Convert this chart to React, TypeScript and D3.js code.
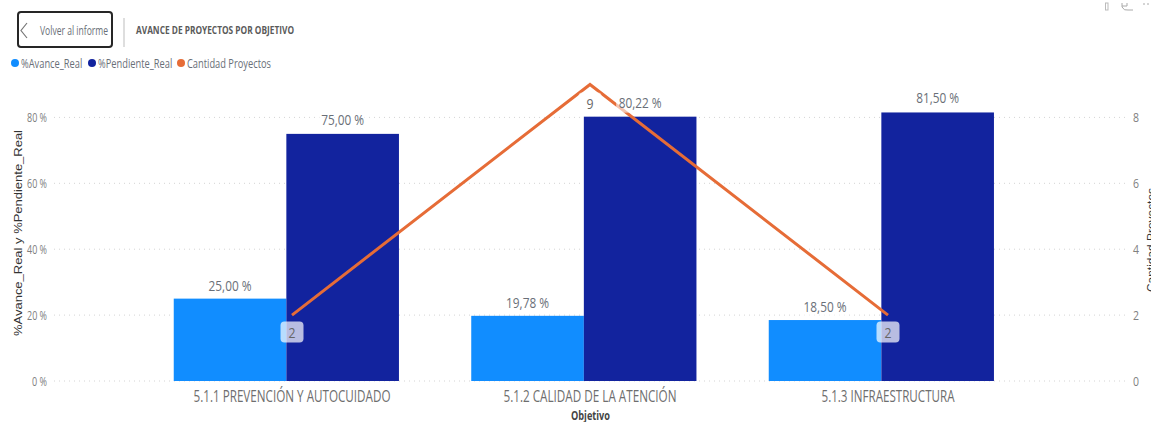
import React from "react";
import * as d3 from "d3";

const categories = ["5.1.1 PREVENCIÓN Y AUTOCUIDADO", "5.1.2 CALIDAD DE LA ATENCIÓN", "5.1.3 INFRAESTRUCTURA"];
const avanceReal = [25.0, 19.78, 18.5];
const pendienteReal = [75.0, 80.22, 81.5];
const cantidadProyectos = [2, 9, 2];
const leftTicks = [0, 20, 40, 60, 80];
const rightTicks = [0, 2, 4, 6, 8];
const legendItems = ["%Avance_Real", "%Pendiente_Real", "Cantidad Proyectos"];

const W = 1151, H = 422;
const BLUE = "#118DFF", NAVY = "#12239E", ORANGE = "#E66C37";
const FONT = "'Open Sans', sans-serif";
const GRAY = "#6a6f78";

const fmt = (v: number) => v.toFixed(2).replace(".", ",") + " %";

function T({ x, y, w, size = 13, anchor = "middle", fill = GRAY, weight = 400, family = FONT, children, rotate }: any) {
  return (
    <text
      x={rotate ? 0 : x}
      y={rotate ? 0 : y}
      transform={rotate ? `translate(${x},${y}) rotate(${rotate})` : undefined}
      textAnchor={anchor}
      dominantBaseline="central"
      fontFamily={family}
      fontSize={size}
      fontWeight={weight}
      fill={fill}
      textLength={w}
      lengthAdjust={w ? "spacingAndGlyphs" : undefined}
    >
      {children}
    </text>
  );
}

export default function App() {
  React.useEffect(() => {
    document.body.style.margin = "0";
  }, []);

  const y = d3.scaleLinear().domain([0, 80]).range([381, 117.4]);
  const yR = d3.scaleLinear().domain([0, 8]).range([381, 117.4]);
  const band = d3.scaleBand<string>().domain(categories).range([137.6, 1030.1]).paddingInner(0.243).paddingOuter(0.1215);
  const bw = band.bandwidth();
  const lineX = d3.scalePoint<string>().domain(categories).range([292, 888]);
  const linePath = d3.line<number>().x((_, i) => lineX(categories[i])!).y((d) => yR(d))(cantidadProyectos)!;

  const catW = [197, 173, 133];
  const legendX = [15, 92, 181];
  const legendCol = [BLUE, NAVY, ORANGE];

  return (
    <svg width={W} height={H} viewBox={`0 0 ${W} ${H}`} style={{ position: "absolute", left: 0, top: 0, display: "block", background: "#fff" }}>
      {/* header */}
      <rect x={18} y={12} width={94} height={35} rx={3} fill="#fff" stroke="#262626" strokeWidth={2} />
      <path d="M27 23 L21 30.5 L27 38" fill="none" stroke="#777" strokeWidth={1.2} />
      <T x={40} y={30.5} w={68} size={12.5} anchor="start">Volver al informe</T>
      <line x1={124} x2={124} y1={18} y2={47} stroke="#c8c8c8" strokeWidth={1.2} />
      <T x={136} y={30} w={158} size={10.5} anchor="start" weight={700} fill="#5a5a5a">AVANCE DE PROYECTOS POR OBJETIVO</T>

      {/* window icons */}
      <rect x={1105.5} y={3} width={2.5} height={7} fill="none" stroke="#bbb" strokeWidth={1} />
      <path d="M1122 3 V7 Q1124 11 1128 10 H1133 M1127 3 V6 H1122" fill="none" stroke="#aaa" strokeWidth={1} />
      <line x1={1143} x2={1150} y1={4} y2={4} stroke="#aaa" strokeWidth={1} strokeDasharray="2 2" />

      {/* legend */}
      {legendItems.map((d, i) => (
        <g key={d}>
          <circle cx={legendX[i]} cy={63} r={4} fill={legendCol[i]} />
          <text
            transform={`translate(${legendX[i] + 6},63) scale(0.69,1)`}
            dominantBaseline="central"
            fontFamily={FONT}
            fontSize={13.5}
            fill={GRAY}
          >
            {d}
          </text>
        </g>
      ))}

      {/* grid */}
      {leftTicks.map((t) => (
        <line key={t} x1={54} x2={1127} y1={y(t)} y2={y(t)} stroke="#d4d4d4" strokeWidth={1} strokeDasharray="1 4" />
      ))}

      {/* left axis */}
      {leftTicks.map((t) => (
        <T key={t} x={47} y={y(t)} w={t === 0 ? 15 : 20} size={12.5} anchor="end" fill="#808080">{`${t} %`}</T>
      ))}
      <T x={18} y={233} w={206} size={11.5} rotate={-90} family="'Liberation Sans', sans-serif" fill="#333">%Avance_Real y %Pendiente_Real</T>

      {/* right axis */}
      {rightTicks.map((t) => (
        <T key={t} x={1136} y={yR(t)} w={6} size={13} fill="#808080">{t}</T>
      ))}
      <T x={1151} y={240} w={104} size={11.5} rotate={-90} family="'Liberation Sans', sans-serif" fill="#333">Cantidad Proyectos</T>

      {/* bars */}
      {categories.map((c, i) => (
        <g key={c}>
          <rect x={band(c)!} y={y(avanceReal[i])} width={bw / 2} height={y(0) - y(avanceReal[i])} fill={BLUE} />
          <rect x={band(c)! + bw / 2} y={y(pendienteReal[i])} width={bw / 2} height={y(0) - y(pendienteReal[i])} fill={NAVY} />
        </g>
      ))}

      {/* line */}
      <path d={linePath} fill="none" stroke={ORANGE} strokeWidth={3} strokeLinejoin="miter" />

      {/* bar labels */}
      {categories.map((c, i) => (
        <g key={c}>
          <rect x={band(c)! + bw * 0.25 - 24} y={y(avanceReal[i]) - 24} width={48} height={20} fill="#fff" fillOpacity={0.6} />
          <T x={band(c)! + bw * 0.25} y={y(avanceReal[i]) - 14} w={43} size={15}>{fmt(avanceReal[i])}</T>
          <rect x={band(c)! + bw * 0.75 - 24} y={y(pendienteReal[i]) - 24} width={48} height={20} fill="#fff" fillOpacity={0.6} />
          <T x={band(c)! + bw * 0.75} y={y(pendienteReal[i]) - 15} w={43} size={15}>{fmt(pendienteReal[i])}</T>
        </g>
      ))}

      {/* line labels */}
      {categories.map((c, i) => {
        const v = cantidadProyectos[i];
        const lx = lineX(c)!;
        const cy = v > 5 ? yR(v) + 18.5 : yR(v) + 17;
        return (
          <g key={c}>
            <rect x={lx - 11.5} y={cy - 10.5} width={23} height={21} rx={4} fill="#fff" fillOpacity={0.7} />
            <T x={lx} y={cy} size={15} fill="#666" w={7}>{v}</T>
          </g>
        );
      })}

      {/* category axis */}
      {categories.map((c, i) => (
        <T key={c} x={lineX(c)!} y={395.5} w={catW[i]} size={15.5} fill="#6e6e6e">{c}</T>
      ))}
      <T x={590.5} y={415} w={39} size={12} weight={700} fill="#444">Objetivo</T>
    </svg>
  );
}
